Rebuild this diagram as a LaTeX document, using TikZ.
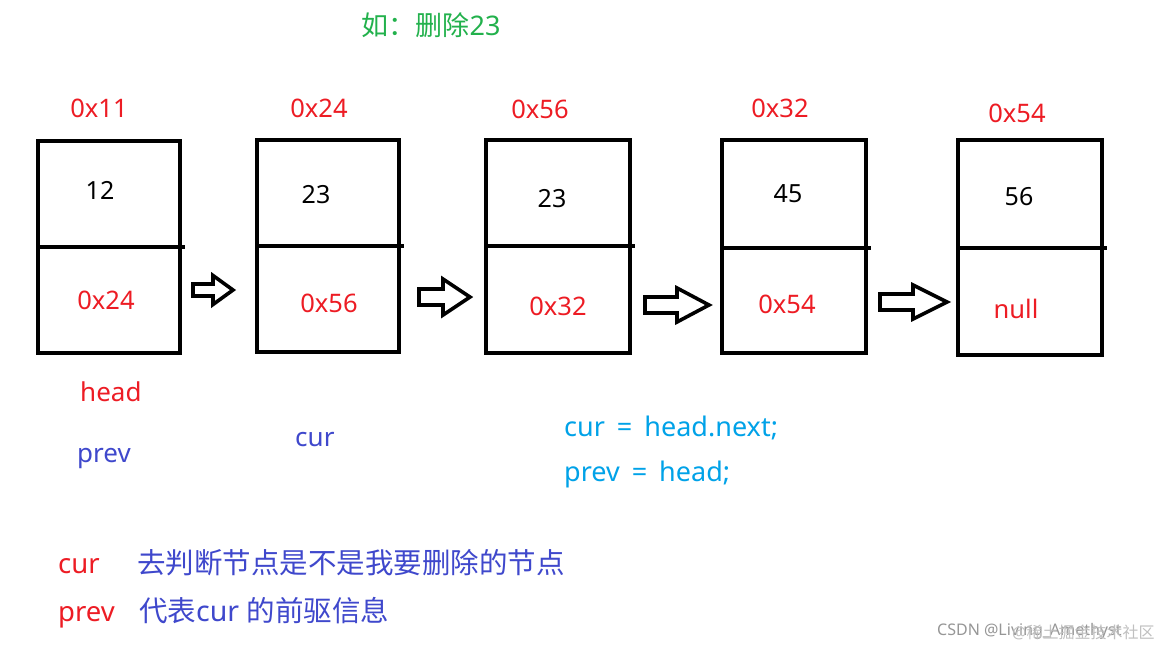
\documentclass[tikz,border=0pt]{standalone}
\usepackage{fontspec}
\setmainfont{Noto Sans}
\newfontfamily\cjk{Noto Sans CJK SC}
\definecolor{pred}{RGB}{237,28,36}
\definecolor{pblue}{RGB}{63,72,204}
\definecolor{plblue}{RGB}{0,162,232}
\definecolor{pgreen}{RGB}{34,177,76}
\definecolor{wm}{RGB}{150,150,150}
\newcommand\fs[1]{\fontsize{#1}{#1}\selectfont}
\newcommand\widesp{\spaceskip=12pt\relax}
\newcommand\blockarrow[7]{%
  \draw[barrow] (#2,#5-#6) -- (#3,#5-#6) -- (#3,#5-#7) -- (#4,#5) -- (#3,#5+#7) -- (#3,#5+#6) -- (#2,#5+#6) -- cycle;}
\tikzset{
  lbl/.style={inner sep=0pt, anchor=base},
  addr/.style={lbl, text=pred, font=\fs{25.5}},
  val/.style={lbl, text=black, font=\fs{25}},
  nxt/.style={lbl, text=pred, font=\fs{25.5}},
  code/.style={lbl, anchor=base west, text=plblue, font=\fs{27}},
  nbox/.style={draw, line width=4pt, inner sep=0pt},
  divl/.style={line width=4pt},
  barrow/.style={draw, line width=3.6pt, line join=miter, fill=white},
}
\begin{document}
\begin{tikzpicture}[x=1pt,y=-1pt]
\useasboundingbox[fill=white] (0,0) rectangle (1176,649);
% title
\node[lbl, text=pgreen, font=\fs{27}] (title) at (431,35) {{\cjk 如：删除}23};
% boxes
\node[nbox, minimum width=142pt, minimum height=212pt] (b1) at (109,247) {};
\node[nbox, minimum width=142pt, minimum height=212pt] (b2) at (328,246) {};
\node[nbox, minimum width=144pt, minimum height=213pt] (b3) at (558,246.5) {};
\node[nbox, minimum width=144pt, minimum height=213pt] (b4) at (794,246.5) {};
\node[nbox, minimum width=144pt, minimum height=215pt] (b5) at (1030,247.5) {};
\coordinate (d1) at (0,247); \coordinate (d2) at (0,246); \coordinate (d3) at (0,246);
\coordinate (d4) at (0,248); \coordinate (d5) at (0,248);
\foreach \i in {1,...,5}{
  \draw[divl] (b\i.west |- d\i) -- ([xshift=3pt]b\i.east |- d\i);
}
% addresses
\node[addr] (a1) at (99,117) {0x11};
\node[addr] (a2) at (319,117) {0x24};
\node[addr] (a3) at (540,118) {0x56};
\node[addr] (a4) at (780,117) {0x32};
\node[addr] (a5) at (1017,122) {0x54};
% values
\node[val] (v1) at (100,199) {12};
\node[val] (v2) at (316,203) {23};
\node[val] (v3) at (552,207) {23};
\node[val] (v4) at (788,202) {45};
\node[val] (v5) at (1019,205) {56};
% next pointers
\node[nxt] (p1) at (106,309) {0x24};
\node[nxt] (p2) at (329,312) {0x56};
\node[nxt] (p3) at (558,315) {0x32};
\node[nxt] (p4) at (787,313) {0x54};
\node[nxt] (p5) at (1016,318) {null};
% block arrows
\blockarrow{ar1}{193}{213}{233}{290}{6}{14.5}
\blockarrow{ar2}{419}{443}{470}{297}{8}{18}
\blockarrow{ar3}{645}{677}{709}{305}{8}{17}
\blockarrow{ar4}{880}{913}{947}{302}{8}{17}
% labels under boxes
\node[lbl, anchor=base west, text=pred, font=\fs{26}] (head) at (80,401) {head};
\node[lbl, anchor=base west, text=pblue, font=\fs{26}] (prev) at (77,462) {prev};
\node[lbl, anchor=base west, text=pblue, font=\fs{26}] (cur) at (295,446) {cur};
% code
\node[code] (c1) at (564,436) {\widesp cur = head.next;};
\node[code] (c2) at (564,481) {\widesp prev = head;};
% legend
\node[lbl, anchor=base west, text=pred, font=\fs{27.5}] (l1) at (58,573) {cur};
\node[lbl, anchor=base west, text=pblue, font=\fs{28.5}\cjk] (l1t) at (137,573) {去判断节点是不是我要删除的节点};
\node[lbl, anchor=base west, text=pred, font=\fs{27.5}] (l2) at (58,621) {prev};
\node[lbl, anchor=base west, text=pblue, font=\fs{28.5}] (l2t) at (139,621) {{\cjk 代表}cur {\cjk 的前驱信息}};
% watermark
\node[lbl, anchor=base west, text=wm, font=\fs{16}] (wm1) at (937,635) {CSDN @Living\_Amethyst};
\node[lbl, anchor=base west, text=wm!60, font=\fs{16}] (wm2) at (1012,638) {@{\cjk 稀土掘金技术社区}};
\end{tikzpicture}
\end{document}
